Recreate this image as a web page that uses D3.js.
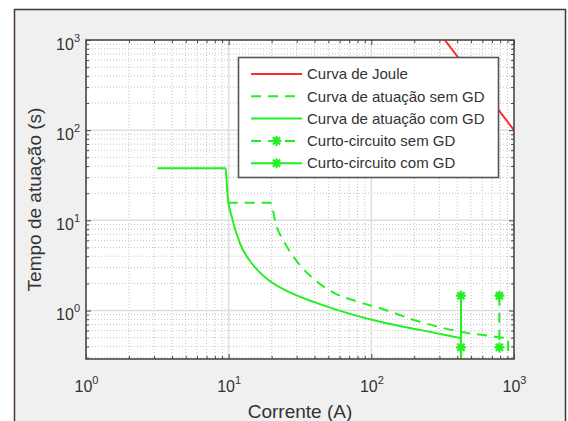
<!DOCTYPE html>
<html>
<head>
<meta charset="utf-8">
<script src="https://cdn.jsdelivr.net/npm/d3@7"></script>
<style>
body { margin: 0; background: #fff; }
text { font-family: "Liberation Sans", Arial, sans-serif; fill: #333; }
</style>
</head>
<body>
<svg></svg>
<script>
var width = 568,
    height = 421;

// tick values (decades)
var xTicks = [1, 10, 100, 1000];
var yTicks = [1, 10, 100, 1000];

// Curva de Joule
var jouleI = [327, 1000];
var jouleT = [1000, 100];

// Curva de atuação sem GD (last point = vertical drop)
var semGdI = [9.85, 19.5, 21.7, 24.8, 30.8, 40.3, 55.6, 81, 115, 219, 425, 760, 910, 910];
var semGdT = [15.7, 15.7, 8.5, 5.56, 3.34, 2.18, 1.55, 1.25, 1.06, 0.75, 0.58, 0.51, 0.49, 0.1];

// Curva de atuação com GD (last point = vertical drop)
var comGdI = [3.16, 9.52, 9.7, 9.85, 10.5, 12.0, 14.5, 19.0, 26.2, 40.3, 69, 115, 219, 425, 425];
var comGdT = [37.8, 37.8, 26, 18, 11, 5.56, 3.34, 2.18, 1.62, 1.23, 0.93, 0.75, 0.61, 0.495, 0.1];

// Curto-circuito sem / com GD
var ccSemI = [790, 790];
var ccSemT = [1.46, 0.39];
var ccComI = [425, 425];
var ccComT = [1.46, 0.39];

var legendLabels = [
    "Curva de Joule",
    "Curva de atuação sem GD",
    "Curva de atuação com GD",
    "Curto-circuito sem GD",
    "Curto-circuito com GD"
];

var red = "#ff2a2a",
    green = "#22f022";

var plot = { left: 86, top: 40, right: 514, bottom: 359 };

var svg = d3.select("svg")
    .attr("width", width)
    .attr("height", height);

var x = d3.scaleLog().domain([1, 1000]).range([plot.left, plot.right]);
var y = d3.scaleLog().domain([0.29, 1000]).range([plot.bottom, plot.top]);

// figure frame
svg.append("rect")
    .attr("x", 14.5).attr("y", 9.5)
    .attr("width", 551).attr("height", 420)
    .attr("fill", "#f0f0f0")
    .attr("stroke", "#4a3434")
    .attr("stroke-width", 1.5);

svg.append("rect")
    .attr("x", plot.left).attr("y", plot.top)
    .attr("width", plot.right - plot.left)
    .attr("height", plot.bottom - plot.top)
    .attr("fill", "#fff");

svg.append("clipPath").attr("id", "clip")
    .append("rect")
    .attr("x", plot.left).attr("y", plot.top)
    .attr("width", plot.right - plot.left)
    .attr("height", plot.bottom - plot.top);

function isDecade(d) {
    var l = Math.log10(d);
    return Math.abs(l - Math.round(l)) < 1e-6;
}

var xMinor = x.ticks().filter(function (d) { return !isDecade(d); });
var yMinor = y.ticks().filter(function (d) { return !isDecade(d); });

// grid
var grid = svg.append("g").attr("clip-path", "url(#clip)");

grid.selectAll(".xminor").data(xMinor).enter().append("line")
    .attr("x1", x).attr("x2", x)
    .attr("y1", plot.top).attr("y2", plot.bottom)
    .attr("stroke", "#c4c4c4")
    .attr("stroke-dasharray", "1,2");

grid.selectAll(".yminor").data(yMinor).enter().append("line")
    .attr("y1", y).attr("y2", y)
    .attr("x1", plot.left).attr("x2", plot.right)
    .attr("stroke", "#c4c4c4")
    .attr("stroke-dasharray", "1,2");

grid.selectAll(".xmajor").data(xTicks).enter().append("line")
    .attr("x1", x).attr("x2", x)
    .attr("y1", plot.top).attr("y2", plot.bottom)
    .attr("stroke", "#dedede")
    .attr("stroke-width", 1.5);

grid.selectAll(".ymajor").data(yTicks).enter().append("line")
    .attr("y1", y).attr("y2", y)
    .attr("x1", plot.left).attr("x2", plot.right)
    .attr("stroke", "#dedede")
    .attr("stroke-width", 1.5);

// curves
var line = d3.line()
    .x(function (d) { return x(d[0]); })
    .y(function (d) { return y(d[1]); });

var smooth = d3.line()
    .curve(d3.curveMonotoneX)
    .x(function (d) { return x(d[0]); })
    .y(function (d) { return y(d[1]); });

// smooth body of the curve, then a straight vertical drop
function curvePath(I, T) {
    var pts = d3.zip(I, T);
    return smooth(pts.slice(0, -1)) + line(pts.slice(-2)).replace("M", "L");
}

var curves = svg.append("g")
    .attr("clip-path", "url(#clip)")
    .attr("fill", "none")
    .attr("stroke-width", 2);

curves.append("path")
    .attr("d", line(d3.zip(jouleI, jouleT)))
    .attr("stroke", red);

curves.append("path")
    .attr("d", curvePath(semGdI, semGdT))
    .attr("stroke", green)
    .attr("stroke-dasharray", "10,7");

curves.append("path")
    .attr("d", curvePath(comGdI, comGdT))
    .attr("stroke", green);

curves.append("path")
    .attr("d", line(d3.zip(ccSemI, ccSemT)))
    .attr("stroke", green)
    .attr("stroke-dasharray", "10,7");

curves.append("path")
    .attr("d", line(d3.zip(ccComI, ccComT)))
    .attr("stroke", green);

var star = "M-5,0H5M0,-5V5M-3.6,-3.6L3.6,3.6M-3.6,3.6L3.6,-3.6";

curves.selectAll(".star")
    .data(d3.zip(ccSemI, ccSemT).concat(d3.zip(ccComI, ccComT)))
    .enter().append("path")
    .attr("transform", function (d) { return "translate(" + x(d[0]) + "," + y(d[1]) + ")"; })
    .attr("d", star)
    .attr("stroke", green)
    .attr("stroke-width", 2.2);

// axes: inward ticks on all four sides
function tickAxis(axisFn, values, size, transform) {
    svg.append("g")
        .attr("transform", transform)
        .call(axisFn.tickValues(values).tickSize(-size).tickFormat(""))
        .call(function (g) {
            g.select(".domain").remove();
            g.selectAll("line").attr("stroke", "#444");
        });
}

tickAxis(d3.axisBottom(x), xMinor, 3, "translate(0," + plot.bottom + ")");
tickAxis(d3.axisBottom(x), xTicks, 5, "translate(0," + plot.bottom + ")");
tickAxis(d3.axisTop(x), xMinor, 3, "translate(0," + plot.top + ")");
tickAxis(d3.axisTop(x), xTicks, 5, "translate(0," + plot.top + ")");
tickAxis(d3.axisLeft(y), yMinor, 3, "translate(" + plot.left + ",0)");
tickAxis(d3.axisLeft(y), yTicks, 5, "translate(" + plot.left + ",0)");
tickAxis(d3.axisRight(y), yMinor, 3, "translate(" + plot.right + ",0)");
tickAxis(d3.axisRight(y), yTicks, 5, "translate(" + plot.right + ",0)");

svg.append("rect")
    .attr("x", plot.left).attr("y", plot.top)
    .attr("width", plot.right - plot.left)
    .attr("height", plot.bottom - plot.top)
    .attr("fill", "none")
    .attr("stroke", "#4a4a4a")
    .attr("stroke-width", 1.6);

// tick labels 10^n
function powerLabel(t) {
    t.text(null);
    t.append("tspan").text("10");
    t.append("tspan")
        .attr("dy", -8)
        .attr("font-size", 11)
        .text(function (d) { return Math.round(Math.log10(d)); });
}

svg.append("g")
    .attr("transform", "translate(0," + plot.bottom + ")")
    .call(d3.axisBottom(x).tickValues(xTicks).tickSize(0).tickPadding(0))
    .call(function (g) {
        g.select(".domain").remove();
        g.selectAll("text")
            .attr("dy", null)
            .attr("y", 33)
            .attr("font-size", 16)
            .attr("fill", "#333")
            .call(powerLabel);
    });

svg.append("g")
    .attr("transform", "translate(" + plot.left + ",0)")
    .call(d3.axisLeft(y).tickValues(yTicks).tickSize(0).tickPadding(0))
    .call(function (g) {
        g.select(".domain").remove();
        g.selectAll("text")
            .attr("dy", null)
            .attr("x", -6)
            .attr("y", 9)
            .attr("font-size", 16)
            .attr("fill", "#333")
            .call(powerLabel);
    });

// axis titles
svg.append("text")
    .attr("x", (plot.left + plot.right) / 2)
    .attr("y", 418)
    .attr("text-anchor", "middle")
    .attr("font-size", 19)
    .text("Corrente (A)");

svg.append("text")
    .attr("transform", "translate(41," + (plot.top + plot.bottom) / 2 + ") rotate(-90)")
    .attr("text-anchor", "middle")
    .attr("font-size", 19)
    .text("Tempo de atuação (s)");

// legend
var legend = svg.append("g");

legend.append("rect")
    .attr("x", 238.5).attr("y", 57.5)
    .attr("width", 260).attr("height", 120)
    .attr("fill", "#fff")
    .attr("stroke", "#555")
    .attr("stroke-width", 1.6);

var legendStyles = [
    { color: red, dash: null, star: false },
    { color: green, dash: "10,7", star: false },
    { color: green, dash: null, star: false },
    { color: green, dash: "10,7", star: true },
    { color: green, dash: null, star: true }
];

var row = legend.selectAll(".row")
    .data(legendLabels)
    .enter().append("g")
    .attr("transform", function (d, i) { return "translate(0," + (74 + i * 22.3) + ")"; });

row.append("line")
    .attr("x1", 251).attr("x2", 302)
    .attr("stroke", function (d, i) { return legendStyles[i].color; })
    .attr("stroke-dasharray", function (d, i) { return legendStyles[i].dash; })
    .attr("stroke-width", 2);

row.filter(function (d, i) { return legendStyles[i].star; })
    .append("path")
    .attr("transform", "translate(276.5,0)")
    .attr("d", star)
    .attr("stroke", green)
    .attr("stroke-width", 2.2);

row.append("text")
    .attr("x", 307)
    .attr("dy", "0.35em")
    .attr("font-size", 15)
    .text(function (d) { return d; });
</script>
</body>
</html>
